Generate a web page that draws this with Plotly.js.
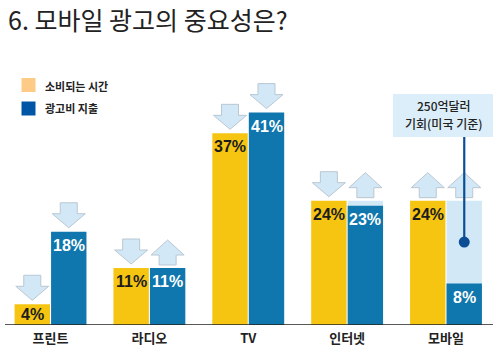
<!DOCTYPE html>
<html>
<head>
<meta charset="utf-8">
<script src="https://cdn.plot.ly/plotly-3.0.1.min.js"></script>
<style>html,body{margin:0;padding:0;background:#fff;}#chart{width:499px;height:354px;}</style>
</head>
<body>
<div id="chart"></div>
<script>
// ---- data ----
const categories = ['프린트', '라디오', 'TV', '인터넷', '모바일'];
const timeSpent = [4, 11, 37, 24, 24];          // 소비되는 시간
const adSpend = [18, 11, 41, 23, 8];            // 광고비 지출
const opportunity = [null, null, null, 24, 24]; // light extension of ad spend
const timeArrows = ['down', 'down', 'down', 'down', 'up'];
const spendArrows = ['down', 'up', 'down', 'up', 'up'];
const seriesNames = ['소비되는 시간', '광고비 지출'];
const calloutLines = ['250억달러', '기회(미국 기준)'];
const chartTitle = '6. 모바일 광고의 중요성은?';

// ---- layout helpers ----
const W = 499, H = 354, T = 40, B = 29;
const plotH = H - T - B;
const pxPerUnit = 5.18;
const yMax = plotH / pxPerUnit;
const py = p => (H - B - p) / plotH;   // pixel y -> paper y
const px = p => p / W;                 // pixel x -> paper x
const OFF = 0.1845;

const YEL = '#F6C512', BLU = '#0F77AD', LIGHT = '#D3E8F7';
const KR = 'Noto Sans CJK KR, sans-serif';

const traces = [
  {type: 'bar', x: categories, y: timeSpent, name: seriesNames[0], offsetgroup: 'a',
   marker: {color: YEL, line: {width: 0}}, hoverinfo: 'none'},
  {type: 'bar', x: categories, y: opportunity, name: 'opportunity', offsetgroup: 'b',
   marker: {color: LIGHT, line: {width: 0}}, hoverinfo: 'none'},
  {type: 'bar', x: categories, y: adSpend, name: seriesNames[1], offsetgroup: 'b',
   marker: {color: BLU, line: {width: 0}}, hoverinfo: 'none'}
];

const downPath = 'M -8.5 29 L 8.5 29 L 8.5 18 L 16.5 18 L 0 4 L -16.5 18 L -8.5 18 Z';
const upPath = 'M -8.5 3 L 8.5 3 L 8.5 13 L 16.5 13 L 0 28 L -16.5 13 L -8.5 13 Z';

const shapes = [];
const annotations = [];

function arrowShape(xc, top, dir) {
  return {type: 'path', xref: 'x', yref: 'y', xsizemode: 'pixel', ysizemode: 'pixel',
    xanchor: xc, yanchor: top, path: dir === 'down' ? downPath : upPath,
    fillcolor: '#D3E8F7', line: {color: '#B9C7D2', width: 1}, layer: 'above'};
}
function valueLabel(xc, v, color) {
  const small = v < 6;
  return {xref: 'x', yref: 'y', x: xc, y: small ? v / 2 : v, yanchor: small ? 'middle' : 'top',
    yshift: small ? 0 : -3, text: v + '%', showarrow: false,
    font: {family: 'Liberation Sans, Arial, sans-serif', size: 16, weight: 'bold', color: color}};
}

categories.forEach((c, i) => {
  const tTop = timeSpent[i];
  const sTop = Math.max(adSpend[i], opportunity[i] || 0);
  shapes.push(arrowShape(i - OFF, tTop, timeArrows[i]));
  shapes.push(arrowShape(i + OFF, sTop, spendArrows[i]));
  annotations.push(valueLabel(i - OFF, timeSpent[i], '#1c1c1c'));
  annotations.push(valueLabel(i + OFF, adSpend[i], '#ffffff'));
});

// baseline
shapes.push({type: 'line', xref: 'paper', yref: 'y', x0: px(5), x1: px(493), y0: 0, y1: 0,
  line: {color: '#222', width: 1.5}});

// callout box, line + dot on mobile opportunity
const mi = 4;
const midVal = (adSpend[mi] + opportunity[mi]) / 2;
shapes.push({type: 'rect', xref: 'paper', yref: 'paper', x0: px(393), x1: px(493), y0: py(137), y1: py(94),
  fillcolor: '#DCEEF9', line: {width: 0}, layer: 'below'});
shapes.push({type: 'line', xref: 'x', yref: 'paper', x0: mi + OFF, x1: mi + OFF,
  y0: py(137), y1: py(325 - midVal * pxPerUnit), line: {color: '#0B4E96', width: 2.2}});
shapes.push({type: 'circle', xref: 'x', yref: 'y', xsizemode: 'pixel', ysizemode: 'pixel',
  xanchor: mi + OFF, yanchor: midVal, x0: -5.5, x1: 5.5, y0: -5.5, y1: 5.5,
  fillcolor: '#0B4E96', line: {width: 0}});

[105, 123.5].forEach((yy, k) => {
  annotations.push({xref: 'paper', yref: 'paper', x: px(444), y: py(yy), xanchor: 'center', yanchor: 'middle',
    text: calloutLines[k], showarrow: false,
    font: {family: KR, size: 12, weight: 500, color: '#222'}});
});

// legend
shapes.push({type: 'rect', xref: 'paper', yref: 'paper', x0: px(21.5), x1: px(35.5), y0: py(92), y1: py(78),
  fillcolor: '#FDCB86', line: {width: 0}});
shapes.push({type: 'rect', xref: 'paper', yref: 'paper', x0: px(21.5), x1: px(35.5), y0: py(115.5), y1: py(101.5),
  fillcolor: '#0056A6', line: {width: 0}});
annotations.push({xref: 'paper', yref: 'paper', x: px(43), y: py(85.5), xanchor: 'left', yanchor: 'middle',
  text: seriesNames[0], showarrow: false, font: {family: KR, size: 11, weight: 'bold', color: '#222'}});
annotations.push({xref: 'paper', yref: 'paper', x: px(43), y: py(108.5), xanchor: 'left', yanchor: 'middle',
  text: seriesNames[1], showarrow: false, font: {family: KR, size: 11, weight: 'bold', color: '#222'}});

const layout = {
  width: W, height: H,
  margin: {l: 0, r: 0, t: T, b: B, pad: 0},
  paper_bgcolor: '#fff', plot_bgcolor: '#fff',
  showlegend: false,
  barmode: 'group', bargap: 0.262, bargroupgap: 0.03,
  title: {text: chartTitle, xref: 'container', yref: 'container', x: 8 / W, xanchor: 'left',
    y: 1 - 21 / H, yanchor: 'middle',
    font: {family: KR, size: 25, color: '#222'}},
  xaxis: {type: 'category', range: [-0.511, 4.536], showgrid: false, zeroline: false, showline: false,
    ticks: '', fixedrange: true, ticklabelstandoff: 4,
    tickfont: {family: KR, size: 13, weight: 'bold', color: '#222'}},
  yaxis: {range: [0, yMax], visible: false, fixedrange: true},
  shapes: shapes,
  annotations: annotations
};

Plotly.newPlot('chart', traces, layout, {displayModeBar: false, staticPlot: true});
</script>
</body>
</html>
